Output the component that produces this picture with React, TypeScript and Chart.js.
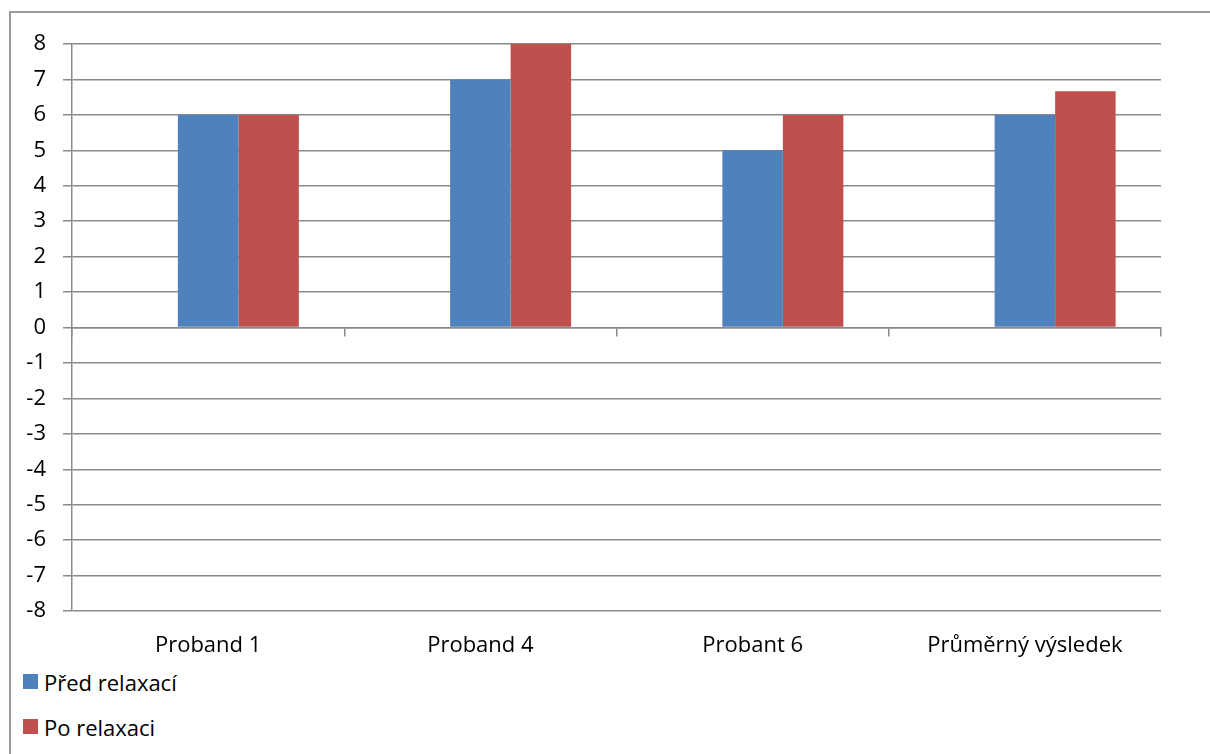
import React, { useEffect, useRef } from "react";
import { Chart, registerables } from "chart.js";

Chart.register(...registerables);

// Categories and series
const categories = ["Proband 1", "Proband 4", "Probant 6", "Průměrný výsledek"];
const seriesNames = ["Před relaxací", "Po relaxaci"];
const seriesColors = ["#4F81BD", "#C0504D"];
const emptySeries: (number | null)[] = [null, null, null, null];
const beforeValues = [6, 7, 5, 6];
const afterValues = [6, 8, 6, 6.67];
const yMin = -8;
const yMax = 8;

const FONT = "'Open Sans', 'Noto Sans', sans-serif";
const FONT_SIZE = 22;
const GRID = "#8a8a8a";

export default function App() {
  const canvasRef = useRef<HTMLCanvasElement | null>(null);

  useEffect(() => {
    const canvas = canvasRef.current;
    if (!canvas) return;
    const chart = new Chart(canvas, {
      type: "bar",
      data: {
        labels: categories,
        datasets: [
          { label: "", data: emptySeries, backgroundColor: "#ffffff" },
          { label: seriesNames[0], data: beforeValues, backgroundColor: seriesColors[0] },
          { label: seriesNames[1], data: afterValues, backgroundColor: seriesColors[1] },
        ],
      },
      options: {
        responsive: false,
        maintainAspectRatio: false,
        animation: false,
        layout: { padding: { left: 0, top: 44, right: 49, bottom: 0 } },
        datasets: { bar: { categoryPercentage: 2 / 3, barPercentage: 1 } },
        plugins: { legend: { display: false }, tooltip: { enabled: false }, title: { display: false } },
        scales: {
          x: {
            type: "category",
            offset: true,
            grid: { display: false, drawTicks: false },
            border: { display: false },
            ticks: { color: "#000", font: { family: FONT, size: FONT_SIZE }, padding: 22, maxRotation: 0 },
            afterFit: (s: any) => { s.height = 49; },
          },
          x0: {
            type: "category",
            position: { y: 0 },
            offset: true,
            grid: { offset: true, drawOnChartArea: false, drawTicks: true, tickLength: 8, color: GRID, lineWidth: 1.5 },
            border: { display: true, color: GRID, width: 1.5 },
            ticks: { display: false },
          },
          y: {
            min: yMin,
            max: yMax,
            ticks: { stepSize: 1, color: "#000", font: { family: FONT, size: FONT_SIZE }, padding: 17 },
            grid: { color: GRID, lineWidth: 1.5, tickLength: 9 },
            border: { display: true, color: GRID, width: 1.5 },
            afterFit: (s: any) => { s.width = 72; },
          },
        },
      },
    } as any);
    return () => chart.destroy();
  }, []);

  return (
    <div style={{ position: "absolute", left: 0, top: 0, width: 1210, height: 754, overflow: "hidden", background: "#fff" }}>
      <div style={{ position: "absolute", left: 9, top: 11, right: -10, bottom: -10, borderLeft: "2px solid #9a9a9a", borderTop: "2px solid #9a9a9a" }} />
      <canvas ref={canvasRef} width={1210} height={660} style={{ position: "absolute", left: 0, top: 0, width: 1210, height: 660 }} />
      {seriesNames.map((name, i) => (
        <div key={name} style={{ position: "absolute", left: 23, top: 674 + i * 45, height: 15, display: "flex", alignItems: "center", fontFamily: FONT, fontSize: FONT_SIZE, color: "#000", whiteSpace: "nowrap" }}>
          <span style={{ display: "inline-block", width: 15, height: 15, background: seriesColors[i], marginRight: 6 }} />
          <span>{name}</span>
        </div>
      ))}
    </div>
  );
}
